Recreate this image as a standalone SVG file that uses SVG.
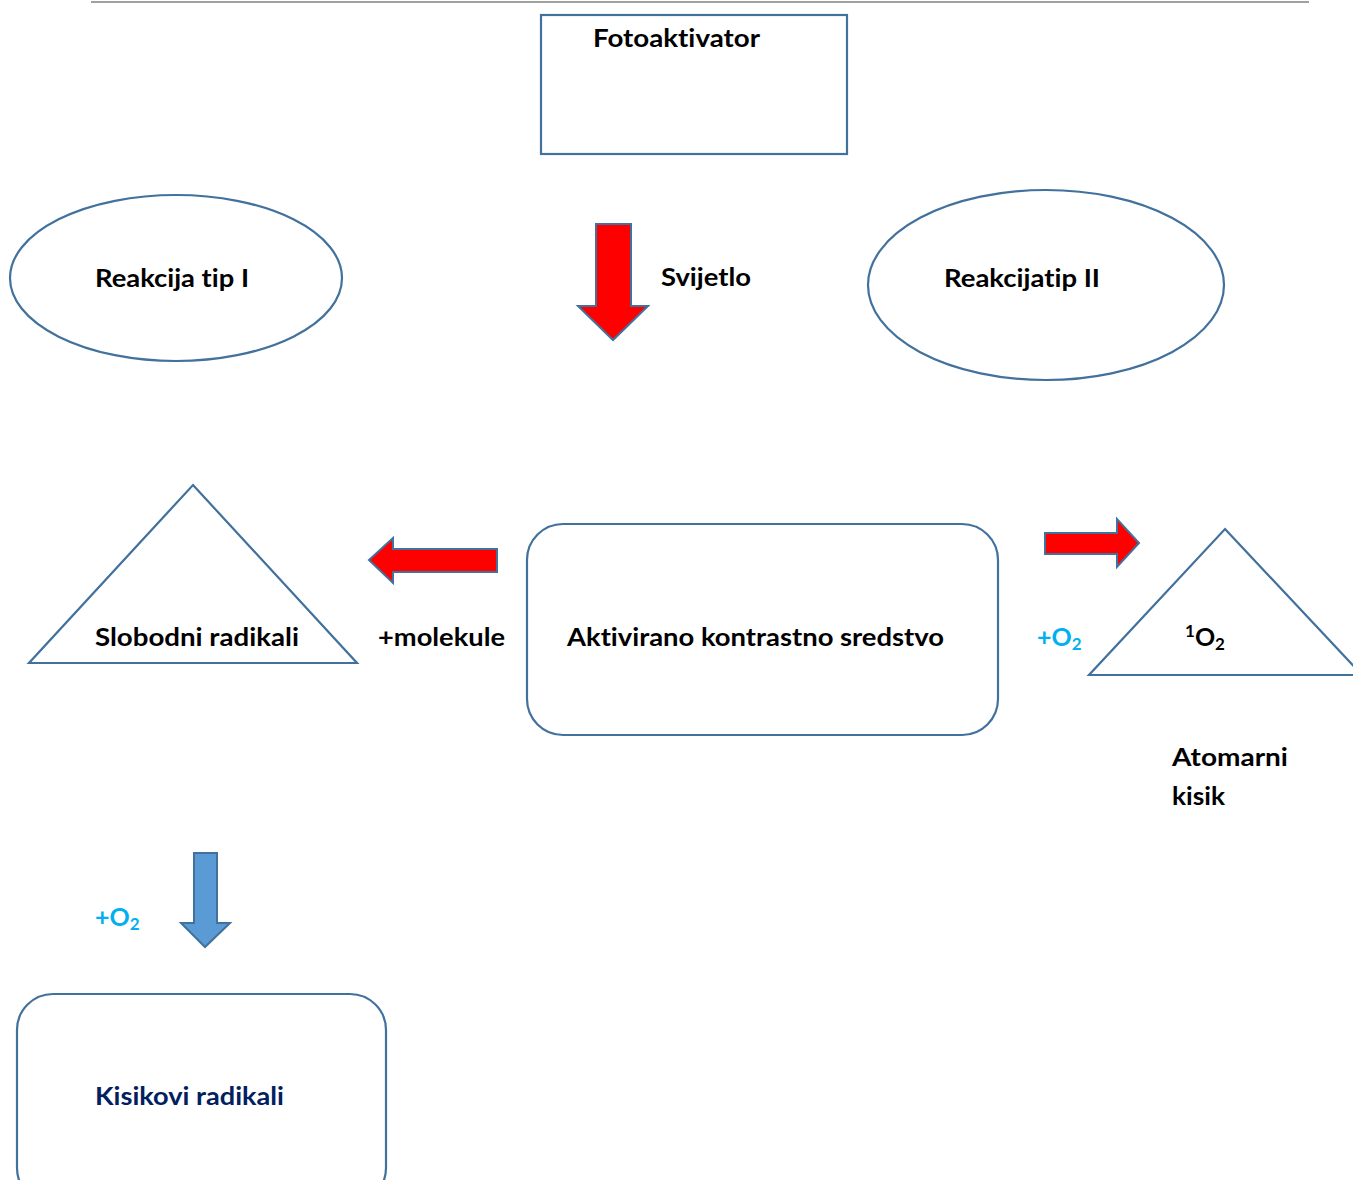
<svg xmlns="http://www.w3.org/2000/svg" width="1353" height="1180" viewBox="0 0 1353 1180">
<style>
.shape{fill:#fff;stroke:#41719c;stroke-width:2.2}
.t{font-family:Lato,"Open Sans",sans-serif;font-weight:bold;font-size:25px;fill:#000;font-variant-ligatures:none;font-feature-settings:"liga" 0,"clig" 0}
.blue{fill:#00b0f0}
.navy{fill:#002060}
.red{fill:#ff0000;stroke:#41719c;stroke-width:2;stroke-linejoin:miter}
.barrow{fill:#5b9bd5;stroke:#41719c;stroke-width:2}
.sub{font-size:17px}
</style>
<rect width="1353" height="1180" fill="#fff"/>
<line x1="91" y1="2" x2="1309" y2="2" stroke="#a0a0a0" stroke-width="2"/>
<g id="fotoaktivator">
<rect class="shape" x="541" y="15" width="306" height="139"/>
<text class="t" x="593" y="47" textLength="167" lengthAdjust="spacingAndGlyphs">Fotoaktivator</text>
</g>
<g id="reakcija-tip-1">
<ellipse class="shape" cx="176" cy="278" rx="166" ry="83"/>
<text class="t" x="95" y="287" textLength="154" lengthAdjust="spacingAndGlyphs">Reakcija tip I</text>
</g>
<g id="reakcija-tip-2">
<ellipse class="shape" cx="1046" cy="285" rx="178" ry="95"/>
<text class="t" x="944" y="287" textLength="156" lengthAdjust="spacingAndGlyphs">Reakcijatip II</text>
</g>
<g id="slobodni-radikali">
<polygon class="shape" points="193,485 357,663 29,663"/>
<text class="t" x="95" y="646" textLength="204" lengthAdjust="spacingAndGlyphs">Slobodni radikali</text>
</g>
<g id="aktivirano">
<rect class="shape" x="527" y="524" width="471" height="211" rx="36" ry="36"/>
<text class="t" x="567" y="646" textLength="377" lengthAdjust="spacingAndGlyphs">Aktivirano kontrastno sredstvo</text>
</g>
<g id="singlet-kisik">
<polygon class="shape" points="1225,529 1362,675 1089,675"/>
<text class="t" x="1185" y="646"><tspan class="sub" dy="-9">1</tspan><tspan dy="9">O</tspan><tspan class="sub" dy="4">2</tspan></text>
</g>
<g id="kisikovi-radikali">
<rect class="shape" x="17" y="994" width="369" height="210" rx="36" ry="36"/>
<text class="t navy" x="95" y="1105" textLength="189" lengthAdjust="spacingAndGlyphs">Kisikovi radikali</text>
</g>
<g id="connectors">
<polygon class="red" points="596,224 631,224 631,306 648,306 613,340 578,306 596,306"/>
<polygon class="red" points="497,549 393,549 393,538 369,560 393,583 393,572 497,572"/>
<polygon class="red" points="1045,533 1117,533 1117,519 1139,543 1117,567 1117,554 1045,554"/>
<polygon class="barrow" points="194,853 217,853 217,923 230,923 205,947 181,923 194,923"/>
</g>
<g id="labels">
<text class="t" x="661" y="286" textLength="90" lengthAdjust="spacingAndGlyphs">Svijetlo</text>
<text class="t" x="378" y="646" textLength="127" lengthAdjust="spacingAndGlyphs">+molekule</text>
<text class="t blue" x="1037" y="646">+O<tspan class="sub" dy="4">2</tspan></text>
<text class="t" x="1172" y="766" textLength="116" lengthAdjust="spacingAndGlyphs">Atomarni</text>
<text class="t" x="1172" y="805" textLength="53" lengthAdjust="spacingAndGlyphs">kisik</text>
<text class="t blue" x="95" y="926">+O<tspan class="sub" dy="4">2</tspan></text>
</g>
</svg>
